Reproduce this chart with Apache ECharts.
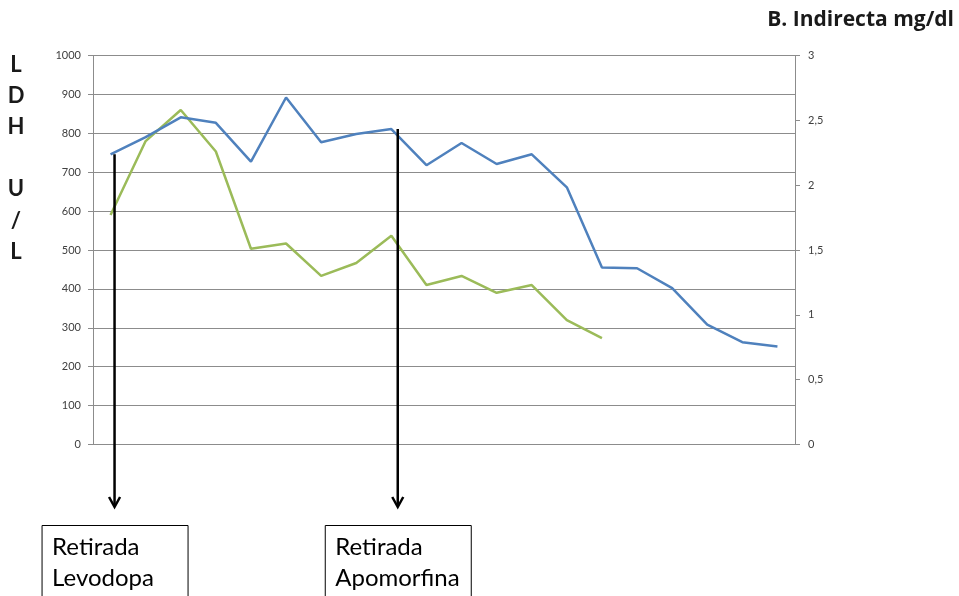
<!DOCTYPE html>
<html>
<head>
<meta charset="utf-8">
<script src="https://cdn.jsdelivr.net/npm/echarts@6/dist/echarts.min.js"></script>
<style>
  html, body { margin: 0; padding: 0; background: #fff; }
  #chart { width: 959px; height: 596px; }
</style>
</head>
<body>
<div id="chart"></div>
<script>
// Sample index (one per determination)
const samples = ['1','2','3','4','5','6','7','8','9','10','11','12','13','14','15','16','17','18','19','20'];

// LDH, U/L (left axis)
const ldh = [746, 790, 841, 827, 727, 892, 777, 798, 811, 718, 775, 721, 746, 661, 455, 453, 402, 308, 263, 252];

// Indirect bilirubin, mg/dl (right axis)
const bilirubin = [1.77, 2.34, 2.58, 2.26, 1.51, 1.55, 1.30, 1.40, 1.61, 1.23, 1.30, 1.17, 1.23, 0.96, 0.82];

// Left axis 0..1000 step 100, right axis 0..3 step 0.5
const ldhTicks = [0, 1000, 100];
const biliTicks = [0, 3, 0.5];

// Treatment withdrawal events: sample index where each arrow starts
const events = [
  { idx: 0, label: 'Retirada\nLevodopa' },
  { idx: 8, label: 'Retirada\nApomorfina' }
];

const chart = echarts.init(document.getElementById('chart'));
const gridColor = '#8c8c8c';
const labelStyle = { color: '#404040', fontSize: 11, fontFamily: 'Lato, "Open Sans", sans-serif' };

chart.setOption({
  animation: false,
  backgroundColor: '#fff',
  title: {
    text: 'B. Indirecta mg/dl',
    right: 0,
    top: 5,
    textStyle: { fontFamily: '"Open Sans", Lato, sans-serif', fontWeight: 'bold', fontSize: 21, color: '#1a1a1a' }
  },
  grid: { left: 93, right: 164, top: 55.5, bottom: 151.5 },
  xAxis: {
    type: 'category',
    data: samples,
    boundaryGap: true,
    axisLine: { show: true, lineStyle: { color: gridColor, width: 1 } },
    axisTick: { show: false },
    axisLabel: { show: false },
    splitLine: { show: false }
  },
  yAxis: [
    {
      type: 'value',
      min: ldhTicks[0], max: ldhTicks[1], interval: ldhTicks[2],
      position: 'left',
      axisLine: { show: true, lineStyle: { color: gridColor, width: 1 } },
      axisTick: { show: true, length: 5, lineStyle: { color: gridColor } },
      axisLabel: Object.assign({ margin: 12, formatter: v => String(v) }, labelStyle),
      splitLine: { show: true, lineStyle: { color: gridColor, width: 1 } }
    },
    {
      type: 'value',
      min: biliTicks[0], max: biliTicks[1], interval: biliTicks[2],
      position: 'right',
      axisLine: { show: true, lineStyle: { color: gridColor, width: 1 } },
      axisTick: { show: true, length: 5, lineStyle: { color: gridColor } },
      axisLabel: Object.assign({ margin: 13, formatter: v => String(v).replace('.', ',') }, labelStyle),
      splitLine: { show: false }
    }
  ],
  series: [
    {
      name: 'LDH',
      type: 'line',
      yAxisIndex: 0,
      data: ldh,
      showSymbol: false,
      lineStyle: { color: '#4F81BD', width: 2.5 },
      itemStyle: { color: '#4F81BD' },
      z: 3
    },
    {
      name: 'B. Indirecta',
      type: 'line',
      yAxisIndex: 1,
      data: bilirubin,
      showSymbol: false,
      lineStyle: { color: '#9BBB59', width: 2.5 },
      itemStyle: { color: '#9BBB59' },
      z: 2
    }
  ]
});

// Annotations: vertical axis caption, withdrawal arrows and their label boxes
function drawAnnotations() {
  const elements = [
    {
      type: 'text',
      x: 16, y: 49,
      style: {
        text: 'L\nD\nH\n\nU\n/\nL',
        fontFamily: 'Lato, "Open Sans", sans-serif',
        fontWeight: 'bold',
        fontSize: 22,
        lineHeight: 31.2,
        fill: '#1a1a1a',
        align: 'center',
        verticalAlign: 'top'
      }
    }
  ];
  const arrowEnd = 507;
  events.forEach(ev => {
    const x = chart.convertToPixel({ xAxisIndex: 0 }, ev.idx) + 4 + ev.idx * 0.3;
    const yTop = chart.convertToPixel({ yAxisIndex: 0 }, ldh[ev.idx]);
    elements.push({
      type: 'line',
      shape: { x1: x, y1: yTop, x2: x, y2: arrowEnd - 1 },
      style: { stroke: '#000', lineWidth: 2.5 },
      z: 10
    });
    elements.push({
      type: 'polyline',
      shape: { points: [[x - 5.5, arrowEnd - 10], [x, arrowEnd], [x + 5.5, arrowEnd - 10]] },
      style: { stroke: '#000', lineWidth: 2.5, fill: null },
      z: 10
    });
    const bx = x - 72.5;
    elements.push({
      type: 'rect',
      shape: { x: bx, y: 525.5, width: 146, height: 90 },
      style: { stroke: '#000', lineWidth: 1, fill: '#fff' },
      z: 10
    });
    elements.push({
      type: 'text',
      x: bx + 10, y: 531.5,
      style: {
        text: ev.label,
        fontFamily: 'Lato, "Open Sans", sans-serif',
        fontSize: 24,
        lineHeight: 31,
        fill: '#000',
        align: 'left',
        verticalAlign: 'top'
      },
      z: 11
    });
  });
  chart.setOption({ graphic: { elements } });
}
drawAnnotations();
</script>
</body>
</html>
